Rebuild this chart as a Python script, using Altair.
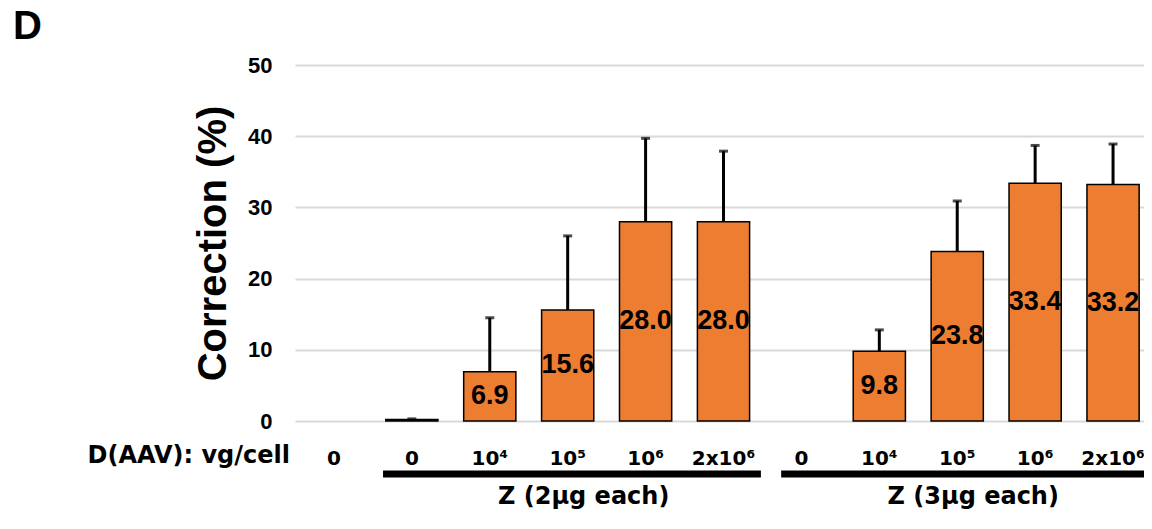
import altair as alt
import pandas as pd

FONT = "Liberation Sans, Arial, Helvetica, sans-serif"
WIDE_FONT = "DejaVu Sans, Verdana, sans-serif"

# ---- data ----
cat_ids = ["c0", "c1", "c2", "c3", "c4", "c5", "c6", "c7", "c8", "c9", "c10"]
cat_labels = ["0", "0", "10⁴", "10⁵", "10⁶", "2x10⁶", "0", "10⁴", "10⁵", "10⁶", "2x10⁶"]
means = [0.0, 0.2, 6.9, 15.6, 28.0, 28.0, 0.0, 9.8, 23.8, 33.4, 33.2]
err_top = [0.0, 0.3, 14.5, 26.0, 39.7, 37.9, 0.0, 12.8, 30.9, 38.7, 38.9]
show_label = [False, False, True, True, True, True, False, True, True, True, True]

group_names = ["Z (2μg each)", "Z (3μg each)"]
group_start = ["c1", "c6"]
group_end = ["c5", "c10"]
group_mid = ["c3", "c8"]

row_label = ["D(AAV):  vg/cell"]
panel_letter = ["D"]

# ---- styles (not data) ----
line_start_band = [0.13, 0.24]
line_end_band = [0.98, 1.0]

df = pd.DataFrame({"cat": cat_ids, "mean": means, "err": err_top, "show": show_label})
gdf = pd.DataFrame({"name": group_names, "start": group_start, "end": group_end, "mid": group_mid})

W, H = 857, 356

label_map = "{" + ",".join(f"'{i}':'{l}'" for i, l in zip(cat_ids, cat_labels)) + "}"

xscale = alt.Scale(domain=cat_ids, paddingInner=0, paddingOuter=0)
yscale = alt.Scale(domain=[0, 50])

x_axis = alt.Axis(
    title=None, labelExpr=f"{label_map}[datum.value]", labelAngle=0,
    labelFont=WIDE_FONT, labelFontSize=20, labelFontWeight="bold", labelColor="black",
    labelPadding=27, domain=False, ticks=False, grid=False,
)
y_axis = alt.Axis(
    title="Correction (%)", values=[0, 10, 20, 30, 40, 50],
    grid=True, gridColor="#d9d9d9", gridWidth=2, domain=False, ticks=False,
    labelFont=FONT, labelFontSize=22, labelFontWeight="bold", labelColor="black",
    labelPadding=23, titleFont=FONT, titleFontSize=40, titleFontWeight="bold",
    titleColor="black", titlePadding=14,
)

base = alt.Chart(df)

bars = base.transform_filter("datum.mean > 0").mark_bar(
    color="#ED7D31", stroke="black", strokeWidth=1.5, width=alt.RelativeBandSize(0.67)
).encode(
    x=alt.X("cat:N", scale=xscale, axis=x_axis, sort=cat_ids),
    y=alt.Y("mean:Q", scale=yscale, axis=y_axis),
)

err = base.transform_filter("datum.err > datum.mean").mark_rule(
    color="black", strokeWidth=3
).encode(
    x=alt.X("cat:N", scale=xscale, sort=cat_ids),
    y="mean:Q",
    y2="err:Q",
)

caps = base.transform_filter("datum.err > datum.mean").mark_tick(
    color="black", thickness=3, size=9, orient="horizontal"
).encode(
    x=alt.X("cat:N", scale=xscale, sort=cat_ids),
    y="err:Q",
)

labels = base.transform_filter("datum.show").transform_calculate(
    mid="datum.mean / 2"
).mark_text(
    font=FONT, fontSize=27, fontWeight="bold", color="black", baseline="middle"
).encode(
    x=alt.X("cat:N", scale=xscale, sort=cat_ids),
    y="mid:Q",
    text=alt.Text("mean:Q", format=".1f"),
)

gbase = alt.Chart(gdf)
glines = []
for name, sb, eb in zip(group_names, line_start_band, line_end_band):
    glines.append(
        gbase.transform_filter(alt.datum.name == name)
        .mark_rule(color="black", strokeWidth=7, strokeCap="butt")
        .encode(
            x=alt.X("start:N", scale=xscale, sort=cat_ids, bandPosition=sb),
            x2=alt.X2("end:N", bandPosition=eb),
            y=alt.value(409),
        )
    )

gtext = gbase.mark_text(
    font=WIDE_FONT, fontSize=24, fontWeight="bold", color="black", baseline="middle", dx=16
).encode(
    x=alt.X("mid:N", scale=xscale, sort=cat_ids),
    y=alt.value(432),
    text="name:N",
)

rowlab = alt.Chart(pd.DataFrame({"t": row_label})).mark_text(
    font=WIDE_FONT, fontSize=24, fontWeight="bold", color="black", align="right", baseline="middle"
).encode(x=alt.value(-5), y=alt.value(391), text="t:N")

letter = alt.Chart(pd.DataFrame({"t": panel_letter})).mark_text(
    font=FONT, fontSize=40, fontWeight="bold", color="black", align="left", baseline="alphabetic"
).encode(x=alt.value(-282), y=alt.value(-26), text="t:N")

chart = alt.layer(bars, err, caps, labels, *glines, gtext, rowlab, letter).properties(
    width=W, height=H,
    autosize=alt.AutoSizeParams(type="none"),
    padding={"left": 287, "top": 57, "right": -8, "bottom": 91},
).configure_view(strokeWidth=0)

chart.save("out.html", embed_options={"renderer": "svg", "actions": False})
